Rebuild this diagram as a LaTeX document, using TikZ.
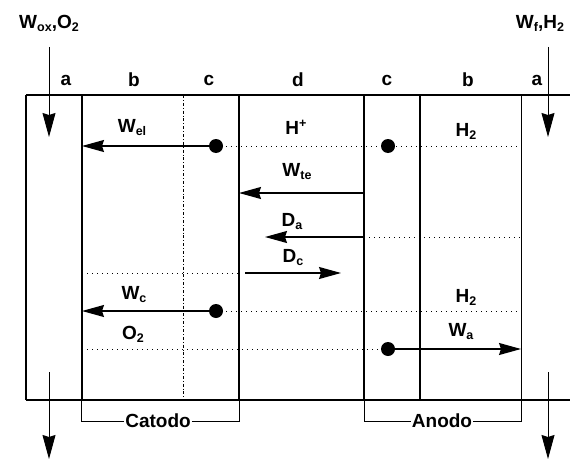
\documentclass[tikz,border=0pt]{standalone}
\usepackage{fontspec}
\setmainfont{Liberation Sans}
\usetikzlibrary{arrows.meta, positioning}
\newcommand{\sbs}[1]{\raisebox{-0.3ex}{\fontsize{12.5}{12.5}\selectfont #1}}
\newcommand{\sps}[1]{\raisebox{0.7ex}{\fontsize{12.5}{12.5}\selectfont #1}}

\begin{document}
\begin{tikzpicture}[
    x=1pt, y=-1pt,
    every node/.style={font=\fontsize{19}{21}\selectfont\bfseries, inner sep=1pt},
    wall/.style={line width=1.5pt},
    thinwall/.style={line width=0.8pt},
    guide/.style={line width=0.6pt, dash pattern=on 1pt off 4pt},
    flow/.style={line width=1.3pt, -{Stealth[length=22pt, width=12pt, inset=2pt]}},
    feed/.style={line width=0.9pt, -{Stealth[length=24pt, width=13pt, inset=2pt]}},
    source/.style={circle, fill, inner sep=0pt, minimum size=14pt},
    bracket/.style={line width=0.9pt}
]
    \useasboundingbox (0,0) rectangle (570,460);

    % cell walls
    \draw[wall] (26,95) -- (570,95);
    \draw[wall] (26,400) -- (570,400);
    \foreach \x in {26,82,239,364,420}
        \draw[wall] (\x,95) -- (\x,400);
    \draw[thinwall, dash dot] (183,95) -- (183,400);
    \draw[thinwall] (521,95) -- (521,400);

    % dotted guide rows
    \foreach \y/\a/\b in {146/216/521, 237/364/521, 273/82/239, 311/216/521, 349/82/388}
        \draw[guide] (\a,\y) -- (\b,\y);

    % column letters
    \foreach \x/\t in {66/a, 134/b, 209/c, 298/d, 387/c, 468/b, 537/a}
        \node at (\x,80) {\t};

    % sources
    \node[source] (elsrc) at (216,146) {};
    \node[source] (hsrc) at (388,146) {};
    \node[source] (csrc) at (216,311) {};
    \node[source] (asrc) at (388,349) {};

    \coordinate (elend) at (82,146);
    \coordinate (te0) at (364,193);
    \coordinate (te1) at (239,193);
    \coordinate (da0) at (364,237);
    \coordinate (da1) at (265,237);
    \coordinate (dc0) at (245,273);
    \coordinate (dc1) at (341,273);
    \coordinate (cend) at (82,311);
    \coordinate (aend) at (521,349);

    % fluxes
    \draw[flow] (elsrc) -- (elend);
    \draw[flow] (te0) -- (te1);
    \draw[flow] (da0) -- (da1);
    \draw[flow] (dc0) -- (dc1);
    \draw[flow] (csrc) -- (cend);
    \draw[flow] (asrc) -- (aend);

    % labels
    \node (wel) at (132,128) {W\sbs{el}};
    \node (hp) at (296,127) {H\sps{+}};
    \node (h2a) at (466,131) {H\sbs{2}};
    \node (wte) at (297,172) {W\sbs{te}};
    \node (da) at (292,222) {D\sbs{a}};
    \node (dc) at (293,258) {D\sbs{c}};
    \node (wc) at (134,295) {W\sbs{c}};
    \node (o2) at (133,334) {O\sbs{2}};
    \node (h2b) at (466,297) {H\sbs{2}};
    \node (wa) at (461,332) {W\sbs{a}};

    % feed streams
    \node (oxfeed) at (49,23) {W\sbs{ox},O\sbs{2}};
    \node (hfeed) at (540,23) {W\sbs{f},H\sbs{2}};
    \coordinate (ox0) at (49,47);
    \coordinate (ox1) at (49,137);
    \coordinate (ox2) at (49,372);
    \coordinate (ox3) at (49,459);
    \coordinate (h0) at (548,47);
    \coordinate (h1) at (548,137);
    \coordinate (h2) at (548,372);
    \coordinate (h3) at (548,459);
    \draw[feed] (ox0) -- (ox1);
    \draw[feed] (ox2) -- (ox3);
    \draw[feed] (h0) -- (h1);
    \draw[feed] (h2) -- (h3);

    % electrodes
    \node (cat) at (158,421) {Catodo};
    \node (ano) at (442,421) {Anodo};
    \draw[bracket] (cat.west) -| (81,400);
    \draw[bracket] (cat.east) -| (239,400);
    \draw[bracket] (ano.west) -| (364,400);
    \draw[bracket] (ano.east) -| (521,400);
\end{tikzpicture}
\end{document}
